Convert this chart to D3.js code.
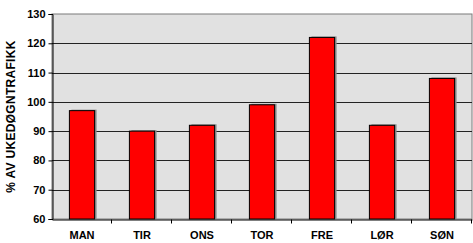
<!DOCTYPE html>
<html lang="no">
<head>
<meta charset="UTF-8">
<script src="https://cdn.jsdelivr.net/npm/d3@7"></script>
<style>
    body { margin: 0; background: white; }
    svg { display: block; font-family: "Liberation Sans", Arial, sans-serif; }
    .tick text { font-weight: bold; font-size: 11px; fill: black; }
</style>
</head>
<body>
<script>
    // weekday traffic as % of average weekday traffic
    const days = ["MAN", "TIR", "ONS", "TOR", "FRE", "LØR", "SØN"];
    const values = [97, 90, 92, 99, 122, 92, 108];
    const yTicks = [60, 70, 80, 90, 100, 110, 120, 130];

    const width = 473, height = 243;
    const margin = {top: 14, right: 1, bottom: 24, left: 52};

    const svg = d3.select("body").append("svg")
        .attr("width", width)
        .attr("height", height);

    const x = d3.scaleBand()
        .domain(days)
        .range([margin.left, width - margin.right])
        .paddingInner(0.58)
        .paddingOuter(0.29);

    const y = d3.scaleLinear()
        .domain([60, 130])
        .range([height - margin.bottom, margin.top]);

    // plot background
    svg.append("rect")
        .attr("x", margin.left)
        .attr("y", margin.top)
        .attr("width", width - margin.right - margin.left)
        .attr("height", y(60) - margin.top)
        .attr("fill", "#e1e1e1")
        .attr("stroke", "#7a7a7a")
        .attr("stroke-width", 1);

    // gridlines
    svg.selectAll("line.grid")
        .data(yTicks.slice(1, -1))
        .enter().append("line")
        .attr("class", "grid")
        .attr("x1", margin.left)
        .attr("x2", width - margin.right)
        .attr("y1", d => Math.round(y(d)) + 0.5)
        .attr("y2", d => Math.round(y(d)) + 0.5)
        .attr("stroke", "#222")
        .attr("stroke-width", 1);

    // bar shadows
    svg.selectAll("rect.shadow")
        .data(values)
        .enter().append("rect")
        .attr("class", "shadow")
        .attr("x", (d, i) => x(days[i]) + 2)
        .attr("y", d => y(d) - 1)
        .attr("width", x.bandwidth())
        .attr("height", d => y(60) - y(d) + 1)
        .attr("fill", "#8c8c8c");

    // bars
    svg.selectAll("rect.bar")
        .data(values)
        .enter().append("rect")
        .attr("class", "bar")
        .attr("x", (d, i) => x(days[i]))
        .attr("y", d => y(d))
        .attr("width", x.bandwidth())
        .attr("height", d => y(60) - y(d))
        .attr("fill", "#ff0000")
        .attr("stroke", "#000")
        .attr("stroke-width", 1);

    // y axis
    const yAxis = svg.append("g")
        .attr("transform", `translate(${margin.left + 0.5},0)`)
        .call(d3.axisLeft(y).tickValues(yTicks).tickSize(4).tickPadding(3));
    yAxis.select(".domain").attr("stroke", "#000");

    // x axis with ticks at category boundaries
    const xAxis = svg.append("g")
        .attr("transform", `translate(0,${y(60) + 0.5})`)
        .call(d3.axisBottom(x).tickSize(0).tickPadding(12));
    xAxis.select(".domain").attr("stroke", "#000");
    const step = x.step();
    xAxis.selectAll("line.sep")
        .data(d3.range(1, days.length + 1))
        .enter().append("line")
        .attr("class", "sep")
        .attr("x1", i => Math.round(margin.left + i * step) - 0.5)
        .attr("x2", i => Math.round(margin.left + i * step) - 0.5)
        .attr("y1", 0)
        .attr("y2", 4)
        .attr("stroke", "#000");

    // y axis label
    svg.append("text")
        .attr("transform", `translate(15,${(margin.top + y(60)) / 2}) rotate(-90)`)
        .attr("text-anchor", "middle")
        .style("font-weight", "bold")
        .style("font-size", "12px")
        .style("letter-spacing", "0.3px")
        .text("% AV UKEDØGNTRAFIKK");
</script>
</body>
</html>
